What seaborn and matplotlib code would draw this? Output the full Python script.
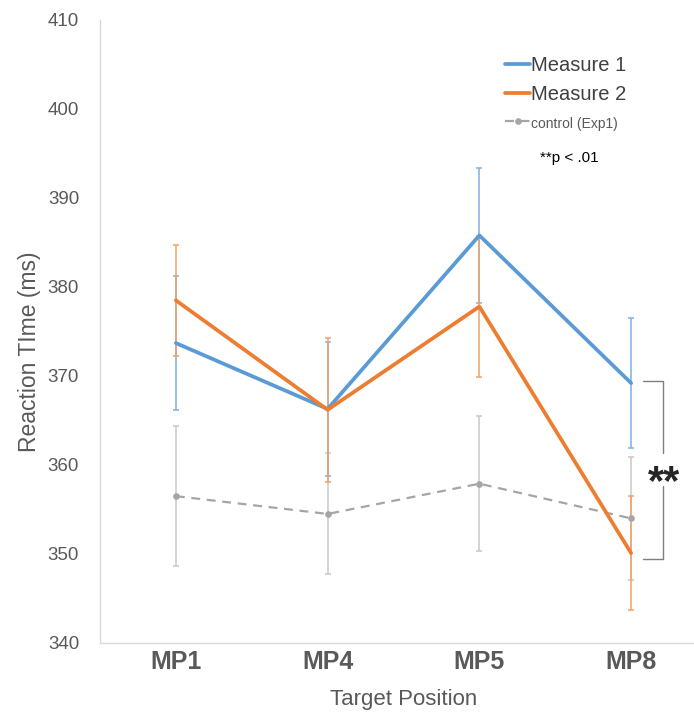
import matplotlib
matplotlib.use("Agg")
import matplotlib.pyplot as plt
import pandas as pd
import seaborn as sns

positions = ["MP1", "MP4", "MP5", "MP8"]
measure1 = [373.7, 366.3, 385.8, 369.2]
measure1_err = [7.5, 7.5, 7.6, 7.3]
measure2 = [378.5, 366.2, 377.8, 350.1]
measure2_err = [6.2, 8.1, 7.9, 6.4]
control = [356.5, 354.5, 357.9, 354.0]
control_err = [7.9, 6.8, 7.6, 6.9]
series_names = ["Measure 1", "Measure 2", "control (Exp1)"]

sns.set_style("white")
plt.rcParams["font.family"] = ["Liberation Sans", "DejaVu Sans"]

df = pd.DataFrame({
    "Target Position": positions * 3,
    "RT": measure1 + measure2 + control,
    "series": [series_names[0]] * 4 + [series_names[1]] * 4 + [series_names[2]] * 4,
})

blue, orange, gray = "#5B9BD5", "#ED7D31", "#A5A5A5"
err_cols = ["#7FB2E0", "#F2A066", "#C8C8C8"]

fig = plt.figure(figsize=(6.94, 7.15), dpi=100)
ax = fig.add_axes([100 / 694, 72 / 715, 607 / 694, 623 / 715])

# error bars first, lines on top
xs = range(len(positions))
for vals, errs, c in [(control, control_err, err_cols[2]),
                      (measure1, measure1_err, err_cols[0]),
                      (measure2, measure2_err, err_cols[1])]:
    ax.errorbar(xs, vals, yerr=errs, fmt="none", ecolor=c, elinewidth=1.1,
                capsize=2.5, capthick=1.1, zorder=1)

sns.lineplot(data=df[df.series == series_names[2]], x="Target Position", y="RT",
             color=gray, lw=1.6, ls=(0, (4, 3)), marker="o", ms=4, mec=gray,
             label=series_names[2], ax=ax, zorder=2, sort=False)
sns.lineplot(data=df[df.series == series_names[0]], x="Target Position", y="RT",
             color=blue, lw=2.7, label=series_names[0], ax=ax, zorder=3, sort=False)
sns.lineplot(data=df[df.series == series_names[1]], x="Target Position", y="RT",
             color=orange, lw=2.7, label=series_names[1], ax=ax, zorder=4, sort=False)

ax.set_xlim(-0.5, 3.5)
ax.set_ylim(340, 410)
ax.set_yticks(range(340, 411, 10))
ax.tick_params(axis="y", length=3, color="#D9D9D9", labelsize=13.5, labelcolor="#595959", pad=12)
ax.tick_params(axis="x", length=0, labelsize=18, labelcolor="#595959", pad=5)
for lab in ax.get_xticklabels():
    lab.set_fontweight("bold")
for side in ["top", "right"]:
    ax.spines[side].set_visible(False)
for side in ["left", "bottom"]:
    ax.spines[side].set_color("#D9D9D9")
    ax.spines[side].set_linewidth(1)
ax.set_xlabel("Target Position", fontsize=16, color="#595959", labelpad=11)
ax.set_ylabel("Reaction TIme (ms)", fontsize=16.5, color="#595959")
ax.yaxis.set_label_coords(-0.098, 0.467)

handles, labels = ax.get_legend_handles_labels()
order = [labels.index(n) for n in series_names]
leg = ax.legend([handles[i] for i in order], [labels[i] for i in order],
                loc="upper left", bbox_to_anchor=(505 / 694, 1 - 56 / 715),
                bbox_transform=fig.transFigure, frameon=False, borderpad=0,
                borderaxespad=0, fontsize=14.5, handlelength=1.25,
                handletextpad=0.05, labelspacing=0.5)
for t in leg.get_texts():
    t.set_color("#404040")
leg.get_texts()[2].set_fontsize(10)
leg.get_texts()[2].set_color("#595959")

ax.text(2.40, 394.5, "**p < .01", fontsize=11, color="black", va="center")

# significance bracket at MP8
bx0, bx1 = 3.078, 3.21
ax.plot([bx0, bx1, bx1], [369.4, 369.4, 361.3], color="#7F7F7F", lw=1, clip_on=False)
ax.plot([bx0, bx1, bx1], [349.4, 349.4, 357.6], color="#7F7F7F", lw=1, clip_on=False)
ax.text(bx1 + 0.01, 358.0, "**", fontsize=30, fontweight="bold", ha="center", va="center")

fig.savefig("out.png", dpi=100)
